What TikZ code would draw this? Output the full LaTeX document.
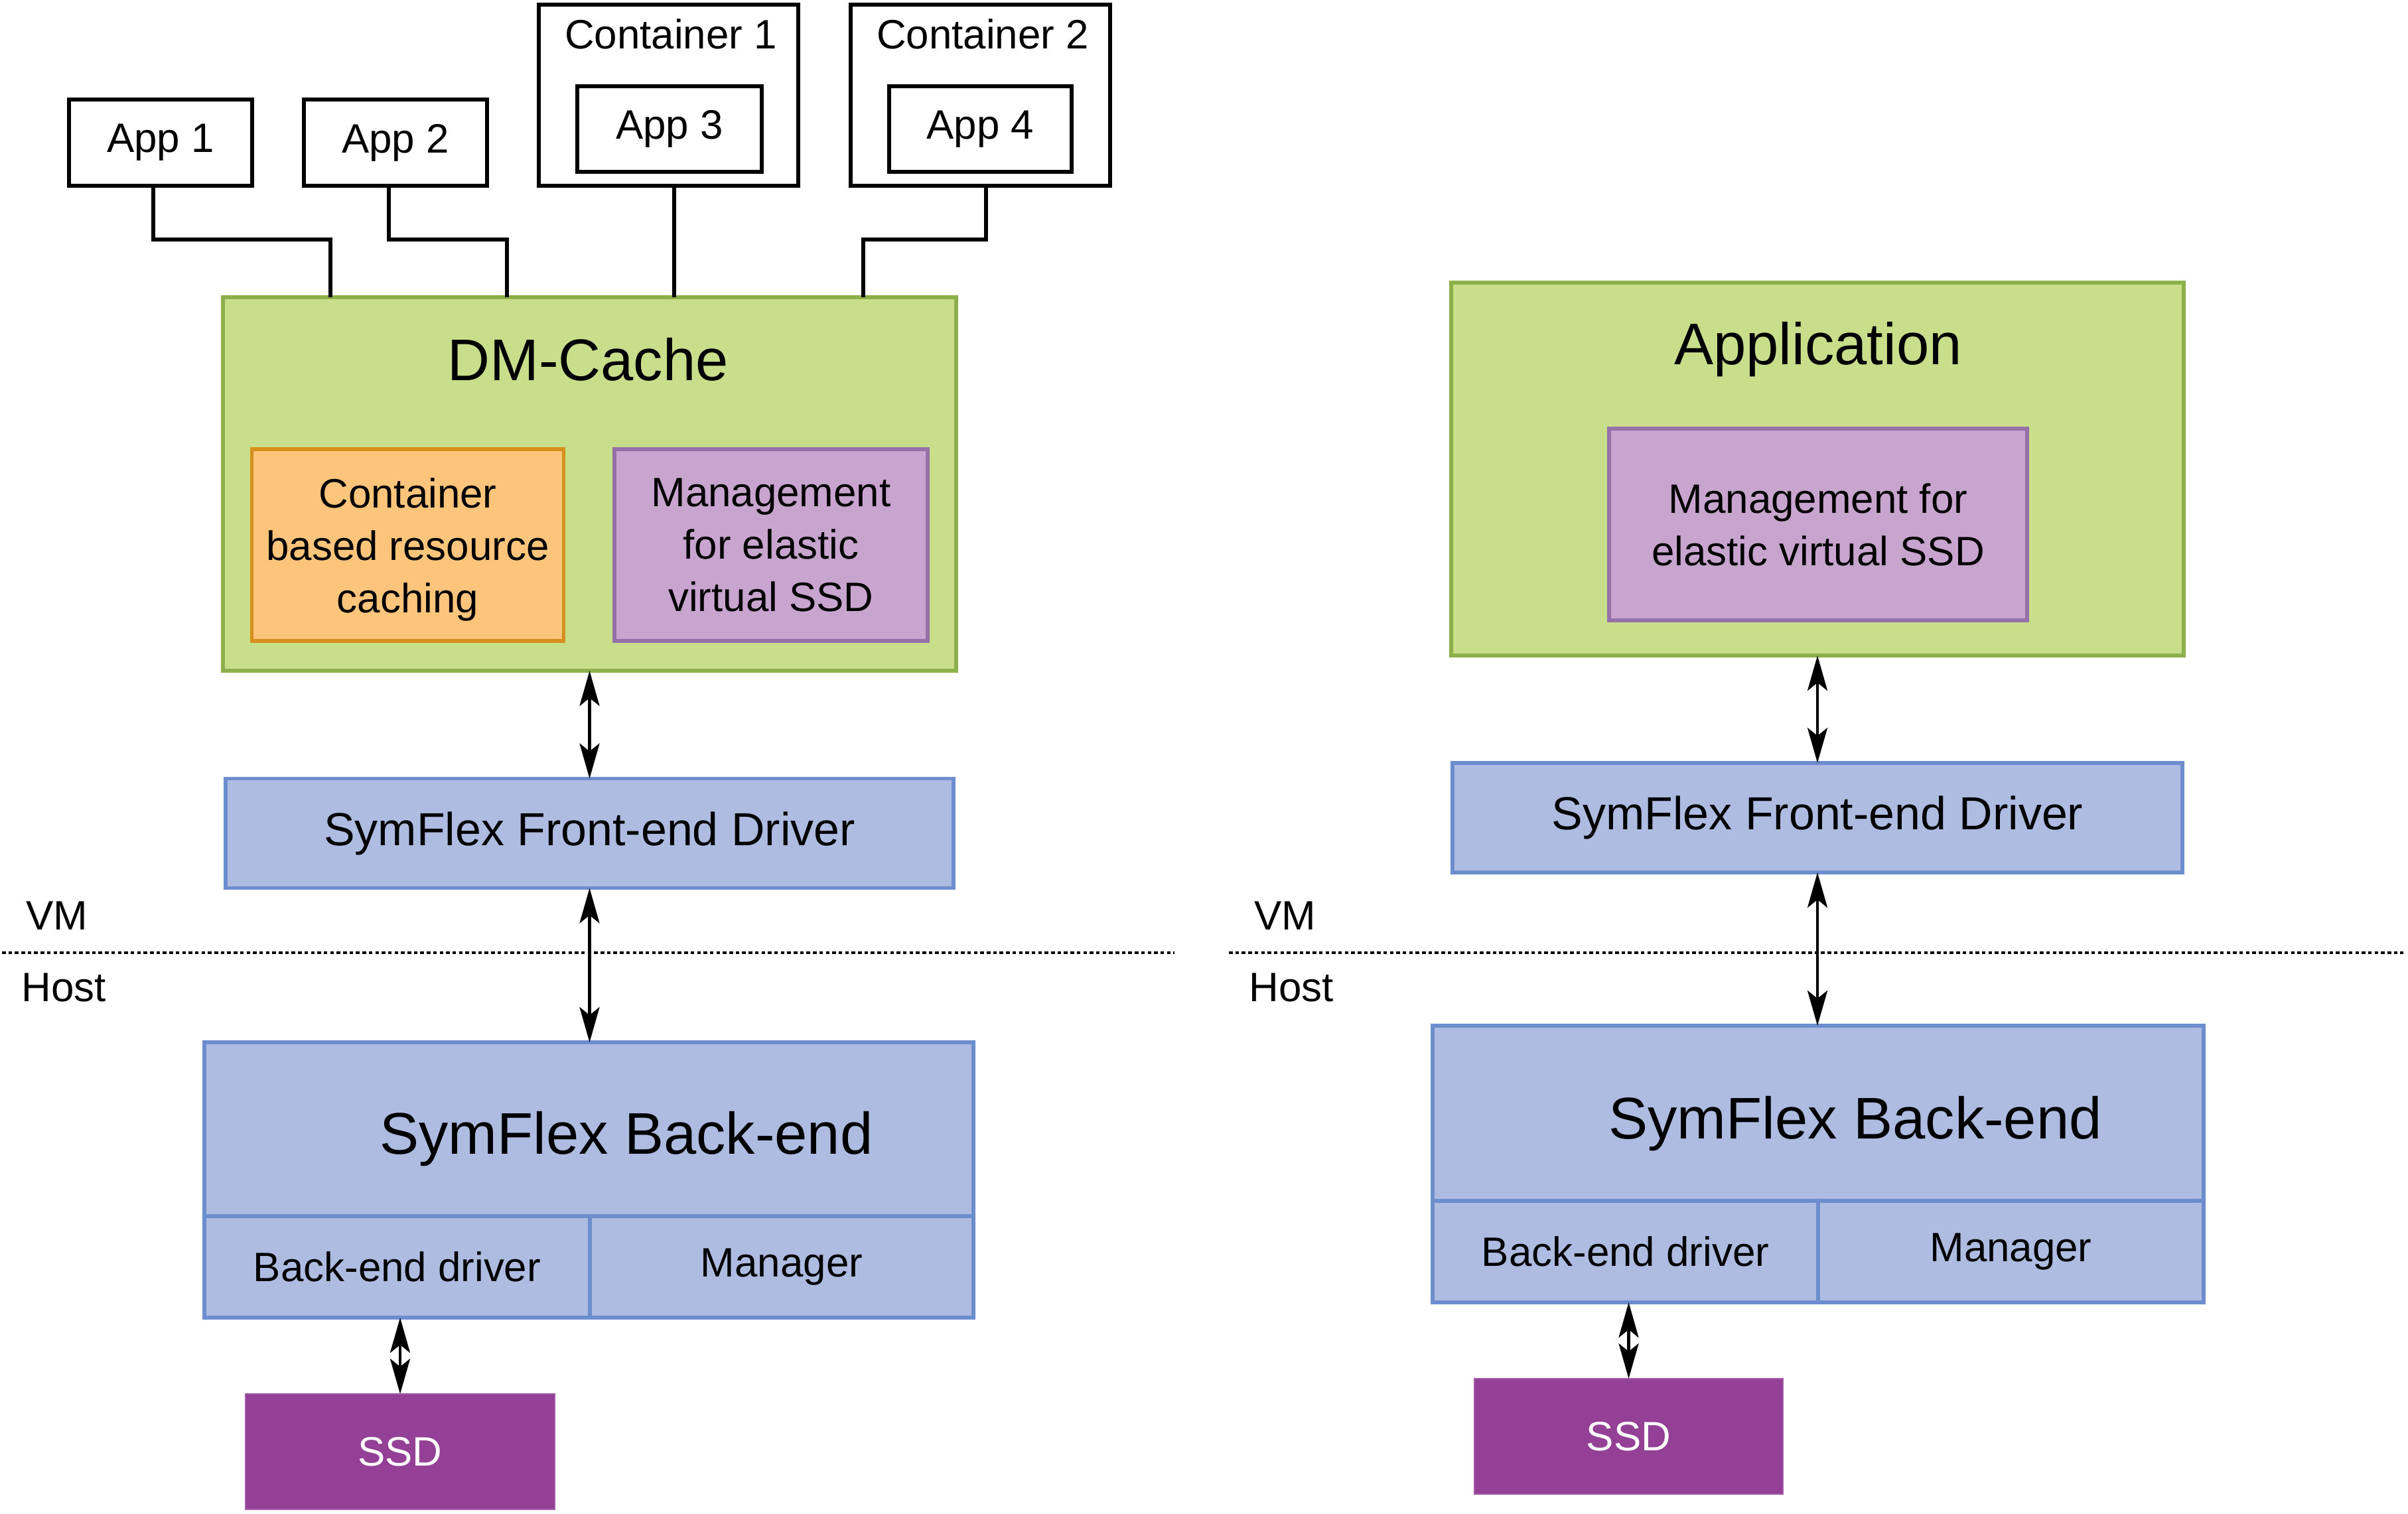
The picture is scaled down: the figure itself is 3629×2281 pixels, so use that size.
\documentclass[tikz,border=0pt]{standalone}
\usepackage{fontspec}
\setmainfont{Liberation Sans}
\usetikzlibrary{arrows.meta,calc}

\definecolor{gfill}{HTML}{C9DE8A}
\definecolor{gline}{HTML}{8EB04A}
\definecolor{ofill}{HTML}{FCC57B}
\definecolor{oline}{HTML}{D8901C}
\definecolor{pfill}{HTML}{C8A5CE}
\definecolor{pline}{HTML}{9670A8}
\definecolor{bfill}{HTML}{ADBCE0}
\definecolor{bline}{HTML}{6C8ECF}
\definecolor{ssdfill}{HTML}{944096}

\newcommand{\fsmall}{\fontsize{17.6pt}{22.5pt}\selectfont}
\newcommand{\fmid}{\fontsize{19.9pt}{24pt}\selectfont}
\newcommand{\fbig}{\fontsize{25.2pt}{30pt}\selectfont}

\tikzset{
  base/.style={rectangle, inner sep=0pt, outer sep=0pt, align=center},
  sz/.style 2 args={minimum width=#1*0.1mm, minimum height=#2*0.1mm},
  appbox/.style={base, draw=black, line width=0.57mm, fill=white, font=\fsmall},
  greenbox/.style={base, draw=gline, fill=gfill, line width=0.57mm},
  orangebox/.style={base, draw=oline, fill=ofill, line width=0.57mm, font=\fsmall},
  purplebox/.style={base, draw=pline, fill=pfill, line width=0.57mm, font=\fsmall},
  bluebox/.style={base, draw=bline, fill=bfill, line width=0.57mm},
  ssdbox/.style={base, fill=ssdfill, draw=ssdfill!85!white, line width=0.15mm, text=white, font=\fsmall},
  plain/.style={base, font=\fsmall},
  wire/.style={draw=black, line width=0.57mm},
  biarrow/.style={draw=black, line width=0.45mm,
    {Stealth[length=5.3mm, width=3mm, inset=1.2mm]}-{Stealth[length=5.3mm, width=3mm, inset=1.2mm]}},
  sep/.style={draw=black, line width=0.45mm, dash pattern=on 0.55mm off 0.42mm},
}

\begin{document}
\begin{tikzpicture}[x=0.1mm, y=-0.1mm]
\useasboundingbox (0,0) rectangle (3629,2281);

% ---------------- left stack: containers on DM-Cache ----------------
\node[appbox, sz={276}{130}] (app1) at (242,215) {App 1};
\node[appbox, sz={276}{130}] (app2) at (596,215) {App 2};
\node[appbox, sz={391}{273}] (cont1) at (1007.5,143.5) {};
\node[plain] (cont1l) at (1011,51) {Container 1};
\node[appbox, sz={278}{129}] (app3) at (1009,194.5) {App 3};
\node[appbox, sz={391}{273}] (cont2) at (1477.5,143.5) {};
\node[plain] (cont2l) at (1481,51) {Container 2};
\node[appbox, sz={275}{129}] (app4) at (1477.5,194.5) {App 4};

\node[greenbox, sz={1105}{563}] (dm) at (888.5,729.5) {};
\node[base, font=\fbig] (dmt) at (886,542) {DM-Cache};
\node[orangebox, sz={470}{289},
  label={[plain, yshift=-0.7mm]center:{Container\\based resource\\caching}}] (cache) at (614.5,821.5) {};
\node[purplebox, sz={472}{289}] (mgmt) at (1162,821.5)
  {Management\\for elastic\\virtual SSD};

\draw[wire] ($(app1.south)+(-11,0)$) -- ++(0,81) -| ($(dm.north)+(-390.5,0)$);
\draw[wire] ($(app2.south)+(-10,0)$) -- ++(0,81) -| ($(dm.north)+(-124.5,0)$);
\draw[wire] ($(cont1.south)+(8.5,0)$) -- ($(dm.north)+(127.5,0)$);
\draw[wire] ($(cont2.south)+(8.5,0)$) -- ++(0,81) -| ($(dm.north)+(412.5,0)$);

\node[bluebox, sz={1097}{165}, font=\fmid] (fe) at (888.5,1256) {SymFlex Front-end Driver};

\node[bluebox, sz={1159}{262}] (betop) at (887.5,1702) {};
\node[base, font=\fbig] (bet) at (944,1717) {SymFlex Back-end};
\node[bluebox, sz={581}{153}, font=\fsmall] (bedrv) at (598.5,1909.5) {Back-end driver};
\node[bluebox, sz={578}{153}, font=\fsmall] (bemgr) at (1178,1909.5) {\raisebox{3pt}{Manager}};

\node[ssdbox, sz={466}{174}] (ssd) at (603,2188) {SSD};

\draw[biarrow] (dm.south) -- (fe.north);
\draw[biarrow] (fe.south) -- (fe.south |- betop.north);
\draw[biarrow] (ssd.north |- bedrv.south) -- (ssd.north);

% VM / Host boundary, left
\coordinate (sepLa) at (3,1436);
\coordinate (sepLb) at (1770,1436);
\draw[sep] (sepLa) -- (sepLb);
\node[plain] (vmL) at (86,1380) {VM};
\node[plain] (hostL) at (96,1488) {Host};

% ---------------- right stack: application ----------------
\node[greenbox, sz={1104}{562}] (appr) at (2739,707) {};
\node[base, font=\fbig] (apprt) at (2740,527) {Application};
\node[purplebox, sz={630}{289}] (mgmtr) at (2740,790.5)
  {Management for\\elastic virtual SSD};

\node[bluebox, sz={1100}{165}, font=\fmid] (fer) at (2739,1232.5) {SymFlex Front-end Driver};

\node[bluebox, sz={1162}{264}] (betopr) at (2740,1678) {};
\node[base, font=\fbig] (betr) at (2796,1694) {SymFlex Back-end};
\node[bluebox, sz={581}{153}, font=\fsmall] (bedrvr) at (2449.5,1886.5) {Back-end driver};
\node[bluebox, sz={581}{153}, font=\fsmall] (bemgrr) at (3030.5,1886.5) {\raisebox{3pt}{Manager}};

\node[ssdbox, sz={465}{174}] (ssdr) at (2454.5,2165) {SSD};

\draw[biarrow] (appr.south) -- (appr.south |- fer.north);
\draw[biarrow] (fer.south) -- (fer.south |- betopr.north);
\draw[biarrow] (ssdr.north |- bedrvr.south) -- (ssdr.north);

% VM / Host boundary, right
\coordinate (sepRa) at (1852,1436);
\coordinate (sepRb) at (3622,1436);
\draw[sep] (sepRa) -- (sepRb);
\node[plain] (vmR) at (1937,1380) {VM};
\node[plain] (hostR) at (1946,1488) {Host};
\end{tikzpicture}
\end{document}
